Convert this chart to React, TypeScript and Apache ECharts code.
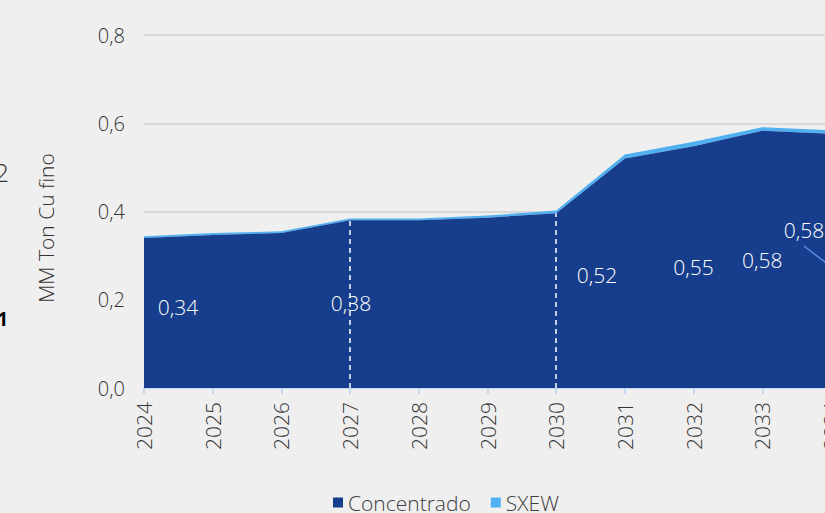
import React, { useEffect, useRef } from "react";
import * as echarts from "echarts";

const years = ["2024", "2025", "2026", "2027", "2028", "2029", "2030", "2031", "2032", "2033", "2034"];
const concentrado = [0.34, 0.347, 0.351, 0.38, 0.38, 0.386, 0.396, 0.52, 0.548, 0.583, 0.576];
const sxew = [0.004, 0.004, 0.004, 0.004, 0.004, 0.005, 0.006, 0.009, 0.01, 0.008, 0.008];
const labelTexts = ["0,34", "", "", "0,38", "", "", "", "0,52", "0,55", "0,58", "0,58"];
const labelOffsets: (number[] | null)[] = [[34, 69], null, null, [1, 83], null, null, null, [-28, 116], [0, 121], [0, 129], [-27, 96]];
const yTicks = { min: 0, max: 0.8, interval: 0.2 };
const dashedYears = ["2027", "2030"];

const FONT = "'Open Sans', 'Noto Sans', sans-serif";
const DARK = "#173e8c";
const LIGHT = "#4fb0f2";

export default function App() {
  const ref = useRef<HTMLDivElement>(null);
  useEffect(() => {
    if (!ref.current) return;
    const chart = echarts.init(ref.current, null, { renderer: "svg" });
    const concData = concentrado.map((v, i) => {
      const off = labelOffsets[i];
      if (!off) return { value: v, label: { show: false } };
      return {
        value: v,
        label: {
          show: true,
          position: "inside",
          offset: off,
          formatter: labelTexts[i],
          color: "#ffffff",
          fontSize: 21,
          fontWeight: 300,
          fontFamily: FONT,
        },
      };
    });
    const dashLines = dashedYears.map((y) => {
      const idx = years.indexOf(y);
      return [{ coord: [y, 0] }, { coord: [y, concentrado[idx]] }];
    });
    chart.setOption({
      animation: false,
      backgroundColor: "#efefef",
      textStyle: { fontFamily: FONT },
      grid: { left: 144, top: 35, width: 687, height: 353, containLabel: false },
      legend: {
        left: 333,
        top: 492,
        padding: 0,
        itemWidth: 10,
        itemHeight: 10,
        itemGap: 20,
        icon: "rect",
        textStyle: { fontSize: 21, color: "#404040", fontFamily: FONT, fontWeight: 300 },
        data: [
          { name: "Concentrado", itemStyle: { color: DARK, opacity: 1 } },
          { name: "SXEW", itemStyle: { color: LIGHT, opacity: 1 } },
        ],
      },
      xAxis: {
        type: "category",
        data: years,
        boundaryGap: false,
        axisLine: { show: true, lineStyle: { color: "#c3d7f3", width: 2 } },
        axisTick: { show: true, length: 6, lineStyle: { color: "#c3d7f3", width: 2 } },
        axisLabel: {
          rotate: 90,
          margin: 14,
          color: "#333333",
          fontSize: 21,
          fontWeight: 300,
          fontFamily: FONT,
          interval: 0,
        },
        splitLine: { show: false },
      },
      yAxis: {
        type: "value",
        min: yTicks.min,
        max: yTicks.max,
        interval: yTicks.interval,
        axisLine: { show: false },
        axisTick: { show: false },
        axisLabel: {
          margin: 19,
          color: "#333333",
          fontSize: 20,
          fontWeight: 300,
          fontFamily: FONT,
          formatter: (v: number) => v.toFixed(1).replace(".", ","),
        },
        splitLine: { show: true, lineStyle: { color: "#d9d9d9", width: 2 } },
      },
      series: [
        {
          name: "Concentrado",
          type: "line",
          stack: "total",
          data: concData,
          symbol: "circle",
          symbolSize: 0.5,
          showSymbol: true,
          itemStyle: { color: DARK },
          lineStyle: { width: 0, color: DARK },
          areaStyle: { color: DARK, opacity: 1 },
          z: 3,
          markLine: {
            silent: true,
            symbol: "none",
            label: { show: false },
            lineStyle: { color: "#ffffff", type: [5, 4], width: 1.5 },
            data: [
              ...dashLines,
              [
                { x: 804, y: 246, lineStyle: { color: "#5b8de8", type: "solid", width: 1.5 } },
                { coord: ["2034", 0.275] },
              ],
            ],
          },
        },
        {
          name: "SXEW",
          type: "line",
          stack: "total",
          data: sxew,
          symbol: "none",
          showSymbol: false,
          itemStyle: { color: LIGHT },
          lineStyle: { width: 0, color: LIGHT },
          areaStyle: { color: LIGHT, opacity: 1 },
          z: 2,
        },
      ],
      graphic: [
        {
          type: "text",
          x: 46,
          y: 228,
          rotation: Math.PI / 2,
          style: {
            text: "MM Ton Cu fino",
            fontSize: 21,
            fontWeight: 300,
            fontFamily: FONT,
            fill: "#333333",
            align: "center",
            verticalAlign: "middle",
          },
        },
        {
          type: "text",
          x: 9,
          y: 172,
          style: { text: "2", fontSize: 26, fontWeight: 300, fontFamily: FONT, fill: "#333333", align: "right", verticalAlign: "middle" },
        },
        {
          type: "text",
          x: 8,
          y: 319,
          style: { text: "1", fontSize: 19, fontWeight: "bold", fontFamily: FONT, fill: "#000000", align: "right", verticalAlign: "middle" },
        },
      ],
    });
    return () => chart.dispose();
  }, []);
  return (
    <div style={{ position: "fixed", left: 0, top: 0, width: 825, height: 513, overflow: "hidden", background: "#efefef" }}>
      <div ref={ref} style={{ width: 1000, height: 513 }} />
    </div>
  );
}
